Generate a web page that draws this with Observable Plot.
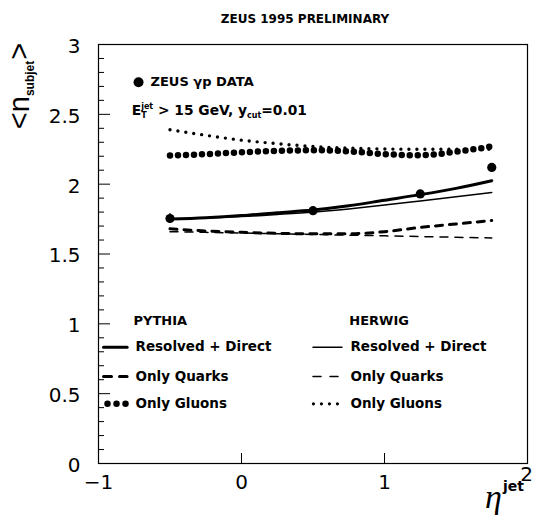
<!DOCTYPE html>
<html><head><meta charset="utf-8">
<script src="https://cdn.jsdelivr.net/npm/d3@7"></script>
<script src="https://cdn.jsdelivr.net/npm/@observablehq/plot@0.6"></script>
<style>html,body{margin:0;padding:0;background:#fff} svg{display:block}</style>
</head><body><div id="chart"></div>
<script>
// ZEUS data
const dataEta = [-0.5, 0.5, 1.25, 1.75];
const dataN = [1.754, 1.81, 1.93, 2.12];
const dataErr = [0.035, 0.02, 0.02, 0.02];

// MC curves
const curveEta = [-0.5, -0.25, 0, 0.25, 0.5, 0.75, 1.0, 1.25, 1.5, 1.75];
const pythiaRD = [1.75, 1.76, 1.775, 1.795, 1.815, 1.845, 1.885, 1.925, 1.97, 2.025];
const herwigRD = [1.75, 1.758, 1.768, 1.783, 1.80, 1.823, 1.85, 1.88, 1.91, 1.94];
const pythiaQ  = [1.68, 1.665, 1.655, 1.648, 1.645, 1.645, 1.66, 1.69, 1.715, 1.74];
const herwigQ  = [1.66, 1.655, 1.65, 1.645, 1.64, 1.635, 1.63, 1.625, 1.62, 1.615];
const pythiaG  = [2.205, 2.215, 2.228, 2.238, 2.243, 2.235, 2.215, 2.207, 2.232, 2.27];
const herwigG  = [2.39, 2.35, 2.315, 2.29, 2.27, 2.258, 2.252, 2.25, 2.25, 2.25];

// ticks and labels
const xTicks = [-1, 0, 1];
const xLastTick = [2];
const xInnerTicks = [0, 1];
const yTicks = [0, 0.5, 1, 1.5, 2, 2.5, 3];
const titleText = "ZEUS 1995 PRELIMINARY";
const dataLabel = "ZEUS γp DATA";
const legendHeaders = ["PYTHIA", "HERWIG"];
const legendLabels = ["Resolved + Direct", "Only Quarks", "Only Gluons"];

const W = 534, H = 529, mL = 98, mR = 7, mT = 44, mB = 66;
const fw = W - mL - mR, fh = H - mT - mB;
const yMinor = d3.range(0, 31).map(i => i / 10).filter(v => Math.abs(v * 2 - Math.round(v * 2)) > 1e-6);
const fmt = d => d < 0 ? "\u2212" + String(-d) : String(d);

const rows = vals => curveEta.map((x, i) => ({x, y: vals[i]}));
const dataRows = dataEta.map((x, i) => ({x, y: dataN[i], e: dataErr[i]}));

const sans = "DejaVu Sans, sans-serif";

const styles = {
  pRD: {strokeWidth: 3},
  hRD: {strokeWidth: 1.5},
  pQ: {strokeWidth: 3, strokeDasharray: "7,7"},
  hQ: {strokeWidth: 1.5, strokeDasharray: "8,7"},
  pG: {strokeWidth: 6.5, strokeDasharray: "0,8", strokeLinecap: "round"},
  hG: {strokeWidth: 3.4, strokeDasharray: "0,8", strokeLinecap: "round"}
};
const line = (vals, st) => Plot.line(rows(vals), {x: "x", y: "y", curve: "monotone-x", stroke: "#000", ...st});

// legend geometry (data units)
const legY = [0.833, 0.623, 0.427];
const legHeadY = 1.02;
const pyS = [-0.965, -0.80], hwS = [0.50, 0.703];
const pyT = -0.741, hwT = 0.762;
const seg = (x1, x2, y) => [{x: x1, y}, {x: x2, y}];
const legLine = (xs, y, st) => Plot.line(seg(xs[0], xs[1], y), {x: "x", y: "y", stroke: "#000", ...st});

const marks = [
  Plot.frame({stroke: "#000", strokeWidth: 1.2}),
  Plot.tickY(yMinor, {y: d => d, insetRight: fw - 6, stroke: "#000"}),
  Plot.tickY(yTicks, {y: d => d, insetRight: fw - 12, stroke: "#000"}),
  Plot.tickX(xInnerTicks, {x: d => d, insetTop: fh - 10, stroke: "#000"}),
  Plot.axisY(yTicks, {tickSize: 0, tickPadding: 18, fontSize: 20, fontFamily: sans, dy: 2, label: null, tickFormat: fmt}),
  Plot.axisX(xTicks, {tickSize: 0, tickPadding: 11, fontSize: 20, fontFamily: sans, label: null, tickFormat: fmt}),
  Plot.axisX(xLastTick, {tickSize: 0, tickPadding: 3, fontSize: 20, fontFamily: sans, label: null, tickFormat: fmt, dx: -1}),
  Plot.text([titleText], {frameAnchor: "top", dy: -30, dx: -8, fontSize: 12, fontWeight: "bold", fontFamily: sans}),

  line(pythiaRD, styles.pRD),
  line(herwigRD, styles.hRD),
  line(pythiaQ, styles.pQ),
  line(herwigQ, styles.hQ),
  line(pythiaG, styles.pG),
  line(herwigG, styles.hG),

  Plot.ruleX(dataRows, {x: "x", y1: d => d.y - d.e, y2: d => d.y + d.e, stroke: "#000", strokeWidth: 1.5}),
  Plot.dot(dataRows, {x: "x", y: "y", r: 4.6, fill: "#000"}),

  // data legend
  Plot.dot([{x: -0.72, y: 2.73}], {x: "x", y: "y", r: 5, fill: "#000"}),
  Plot.text([{x: -0.636, y: 2.73, t: dataLabel}], {x: "x", y: "y", text: "t", textAnchor: "start", fontSize: 13, fontWeight: "bold", fontFamily: sans}),

  // MC legend headers and labels
  Plot.text([{x: pyT - 0.014, y: legHeadY, t: legendHeaders[0]}, {x: hwT - 0.008, y: legHeadY, t: legendHeaders[1]}],
    {x: "x", y: "y", text: "t", textAnchor: "start", fontSize: 13, fontWeight: "bold", fontFamily: sans}),
  Plot.text(legendLabels.flatMap((t, i) => [{x: pyT, y: legY[i], t}, {x: hwT, y: legY[i], t}]),
    {x: "x", y: "y", text: "t", textAnchor: "start", fontSize: 13.5, fontWeight: "bold", fontFamily: sans}),

  legLine(pyS, legY[0], styles.pRD),
  legLine(hwS, legY[0], styles.hRD),
  legLine(pyS, legY[1], {strokeWidth: 3, strokeDasharray: "8,8"}),
  legLine(hwS, legY[1], {strokeWidth: 1.5, strokeDasharray: "8,9"}),
  legLine([-0.937, -0.811], legY[2], {strokeWidth: 6.5, strokeDasharray: "0,9", strokeLinecap: "round"}),
  legLine([0.503, 0.671], legY[2], {strokeWidth: 3.2, strokeDasharray: "0,8", strokeLinecap: "round"})
];

const svg = Plot.plot({
  width: W, height: H,
  marginLeft: mL, marginRight: mR, marginTop: mT, marginBottom: mB,
  x: {domain: [-1, 2]},
  y: {domain: [0, 3]},
  style: {background: "#fff", color: "#000", overflow: "visible"},
  marks
});
document.getElementById("chart").append(svg);

const sx = svg.scale("x"), sy = svg.scale("y");
const s = d3.select(svg);

// y-axis label  <n_subjet>
const yl = s.append("text")
  .attr("transform", `translate(29,86) rotate(-90)`)
  .attr("text-anchor", "middle")
  .attr("font-family", "Liberation Sans, Arial, sans-serif")
  .attr("font-size", 29).attr("fill", "#000");
yl.append("tspan").text("<n");
yl.append("tspan").attr("font-size", 12).attr("font-weight", "bold").attr("dy", 5).text("subjet");
yl.append("tspan").attr("dy", -5).attr("dx", 1).text(">");

// x-axis label  eta^jet
const xl = s.append("text")
  .attr("x", W - mR - 42).attr("y", H - mB + 45)
  .attr("text-anchor", "start")
  .attr("font-family", "Liberation Serif, serif").attr("font-style", "italic")
  .attr("font-size", 34).attr("fill", "#000").text("η");
xl.append("tspan").attr("font-family", sans).attr("font-style", "normal").attr("font-weight", "bold")
  .attr("font-size", 14).attr("dy", -17).attr("dx", 1).text("jet");

// E_T^jet > 15 GeV, y_cut=0.01
function seq(x0, yb, parts) {
  let x = x0;
  const mk = (xx, y, size, text) => s.append("text").attr("x", xx).attr("y", y)
    .attr("text-anchor", "start").attr("font-family", sans).attr("font-weight", "bold")
    .attr("font-size", size).attr("fill", "#000").attr("xml:space", "preserve")
    .style("white-space", "pre").text(text);
  for (const p of parts) {
    if (p.stack) {
      let w = 0;
      for (const q of p.stack) {
        const t = mk(x, yb + q.dy, q.size, q.text);
        w = Math.max(w, t.node().getComputedTextLength());
      }
      x += w;
    } else {
      const t = mk(x, yb + (p.dy || 0), p.size, p.text);
      x += t.node().getComputedTextLength();
    }
  }
}
seq(sx.apply(-0.764), sy.apply(2.53) + 5, [
  {text: "E", size: 13.8},
  {stack: [{text: "jet", size: 8, dy: -6}, {text: "T", size: 8, dy: 3}]},
  {text: " > 15 GeV, y", size: 13.8},
  {text: "cut", size: 8, dy: 3},
  {text: "=0.01", size: 13.8}
]);
</script>
</body></html>
